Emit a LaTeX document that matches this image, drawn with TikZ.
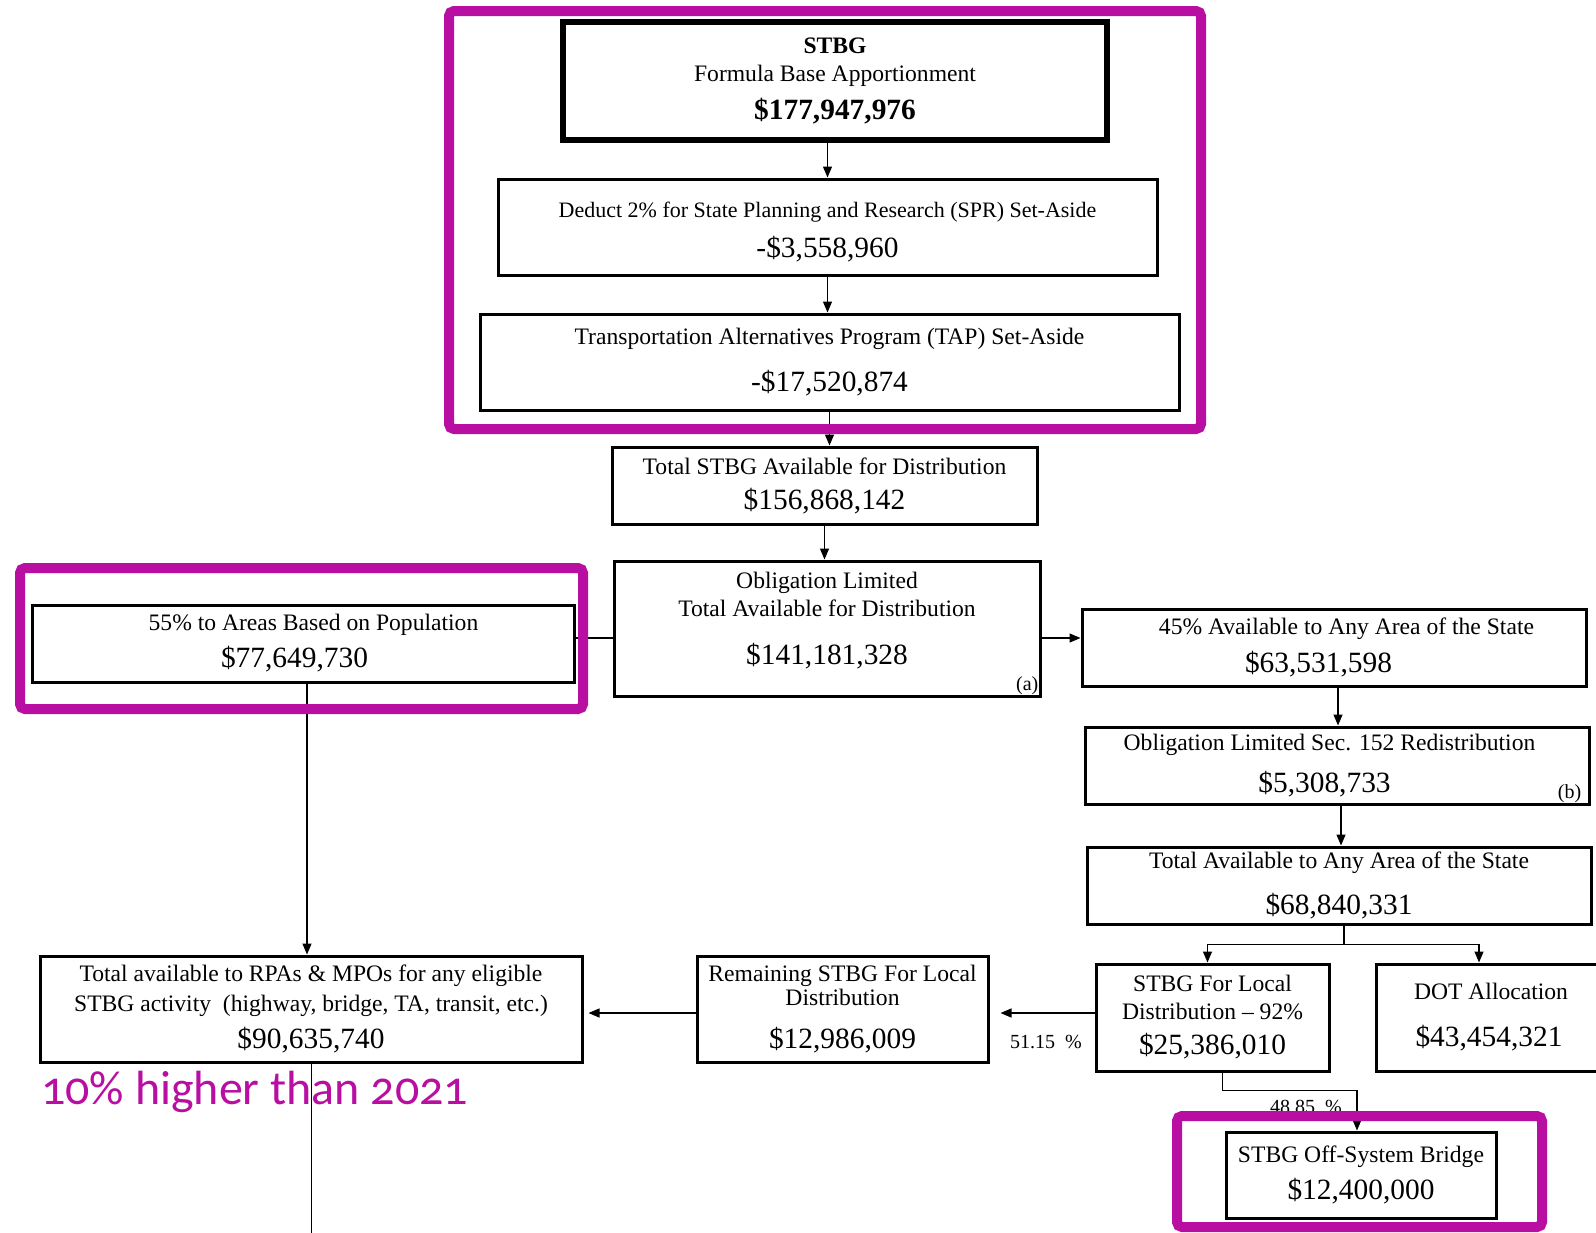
\documentclass[tikz,border=0pt]{standalone}
\usepackage{fontspec}
\setmainfont{Liberation Serif}
\newfontfamily\notefont[Numbers=OldStyle]{Carlito}
\usetikzlibrary{arrows.meta}
\definecolor{highlight}{RGB}{184,14,162}
\newcommand{\amt}[1]{{\fontsize{29.4}{34}\selectfont #1}}
\tikzset{
  fundbox/.style={draw, line width=3pt, align=center, inner sep=0pt, font=\fontsize{23.6}{28}\selectfont},
  flow/.style={->, line width=1.2pt},
  link/.style={line width=1.2pt},
  pct/.style={font=\fontsize{20}{24}\selectfont, inner sep=2pt},
  hilite/.style={draw=highlight, line width=10pt, rounded corners=5pt}
}
\begin{document}
\begin{tikzpicture}[x=1pt, y=-1pt, >={Triangle[length=11pt,width=9pt]}]
\useasboundingbox (0,0) rectangle (1596,1232);
\clip (0,0) rectangle (1596,1232);
\node[fundbox, line width=6.5pt, minimum width=544pt, minimum height=118pt] (stbg) at (835,81) {\textbf{STBG}\\Formula Base Apportionment\\[10pt]\amt{\textbf{\$177,947,976}}};
\node[fundbox, minimum width=659pt, minimum height=96pt] (deduct) at (827.5,227) {\rule{0pt}{26pt}{\fontsize{22}{28}\selectfont Deduct 2\% for State Planning and Research (SPR) Set-Aside}\\[12pt]\amt{-\$3,558,960}};
\node[fundbox, minimum width=699pt, minimum height=96pt] (tap) at (829.5,362) {Transportation Alternatives Program (TAP) Set-Aside\\[19pt]\amt{-\$17,520,874}};
\node[fundbox, minimum width=425pt, minimum height=77pt] (total) at (824.5,485.5) {Total STBG Available for Distribution\\[7pt]\amt{\$156,868,142}};
\node[fundbox, minimum width=426pt, minimum height=135pt] (oblig) at (827,628.5) {Obligation Limited\\Total Available for Distribution\\[20pt]\amt{\$141,181,328}\\[-8pt]\mbox{}};
\node[fundbox, minimum width=542pt, minimum height=77pt] (pop) at (303,643.5) {\hspace*{21pt}55\% to Areas Based on Population\\[9pt]\amt{\$77,649,730}\hspace*{17pt}};
\node[fundbox, minimum width=504pt, minimum height=77pt] (state) at (1334,647.5) {\hspace*{25pt}45\% Available to Any Area of the State\\[10pt]\amt{\$63,531,598}\hspace*{31pt}};
\node[fundbox, minimum width=504pt, minimum height=77pt] (redist) at (1337,765.5) {Obligation Limited Sec. 152 Redistribution\hspace*{15pt}\\[14pt]\amt{\$5,308,733}\hspace*{25pt}};
\node[fundbox, minimum width=504pt, minimum height=77pt] (anyarea) at (1339,885.5) {Total Available to Any Area of the State\\[18pt]\amt{\$68,840,331}};
\node[fundbox, minimum width=233pt, minimum height=107pt] (local) at (1212.5,1017.5) {STBG For Local\\Distribution \textendash{} 92\%\\[7pt]\amt{\$25,386,010}};
\node[fundbox, minimum width=244pt, minimum height=107pt] (dot) at (1498,1017.5) {DOT Allocation\hspace*{14pt}\\[19pt]\amt{\$43,454,321}\hspace*{18pt}};
\node[fundbox, minimum width=291pt, minimum height=106pt] (remain) at (842.5,1009) {Remaining STBG For Local\\[-4pt]Distribution\\[15pt]\amt{\$12,986,009}};
\node[fundbox, minimum width=542pt, minimum height=106pt] (rpa) at (311,1009) {Total available to RPAs \& MPOs for any eligible\\[2pt]STBG activity\ \ (highway, bridge, TA, transit, etc.)\\[9pt]\amt{\$90,635,740}};
\node[fundbox, minimum width=270pt, minimum height=86pt] (bridge) at (1361,1175) {STBG Off-System Bridge\\[9pt]\amt{\$12,400,000}};
\node[pct, anchor=south east, inner sep=3pt] (notea) at (oblig.south east) {(a)};
\node[pct, anchor=south east, inner sep=3pt, xshift=-6pt] (noteb) at (redist.south east) {(b)};
\node[pct] (share1) at (1046,1042) {51.15\ \ \%};
\node[pct] (share2) at (1306,1107) {48.85\ \ \%};
\coordinate (obligR) at ([yshift=-9.5pt]oblig.east);
\coordinate (obligL) at ([yshift=-9.5pt]oblig.west);
\coordinate (popdown) at ([xshift=4pt]pop.south);
\coordinate (statedown) at ([xshift=4pt]state.south);
\coordinate (redistdown) at ([xshift=4pt]redist.south);
\coordinate (anydown) at ([xshift=5pt]anyarea.south);
\coordinate (fork) at ([yshift=-19pt]anydown);
\coordinate (localin) at ([xshift=-5pt]local.north);
\coordinate (dotin) at ([xshift=-19pt]dot.north);
\coordinate (localout) at ([yshift=4.5pt]local.west);
\coordinate (remainin) at ([xshift=11pt]remain.east);
\coordinate (remainout) at ([yshift=-4pt]remain.west);
\coordinate (rpain) at ([xshift=5pt]rpa.east);
\coordinate (localdown) at ([xshift=10pt]local.south);
\coordinate (bridgein) at ([xshift=-4pt]bridge.north);
\coordinate (rpaend) at ([yshift=-180pt]rpa.south);
\draw[flow] (stbg.south -| deduct.north) -- (deduct.north);
\draw[flow] (deduct.south) -- (deduct.south |- tap.north);
\draw[flow] (tap.south) -- (tap.south |- total.north);
\draw[flow] (total.south) -- (total.south |- oblig.north);
\draw[flow] (obligR) -- (obligR -| state.west);
\draw[link] (obligL) -- (obligL -| pop.east);
\draw[flow] (popdown) -- (popdown |- rpa.north);
\draw[flow] (statedown) -- (statedown |- redist.north);
\draw[flow] (redistdown) -- (redistdown |- anyarea.north);
\draw[link] (anydown) -- (fork);
\draw[flow] (fork) -| (localin);
\draw[flow] (fork) -| (dotin);
\draw[flow] (localout) -- (localout -| remainin);
\draw[flow] (remainout) -- (remainout -| rpain);
\draw[flow] (localdown) -- ++(0,18) -| (bridgein);
\draw[line width=1pt] (rpa.south) -- (rpaend);
\node[font=\notefont\fontsize{48}{52}\selectfont, text=highlight, anchor=base west, inner sep=0pt] (note) at (41,1104) {10\% higher than 2021};
\draw[hilite] (449,11) rectangle (1201,429);
\draw[hilite] (20,568) rectangle (583,709);
\draw[hilite] (1177,1116) rectangle (1542,1227);
\end{tikzpicture}
\end{document}
